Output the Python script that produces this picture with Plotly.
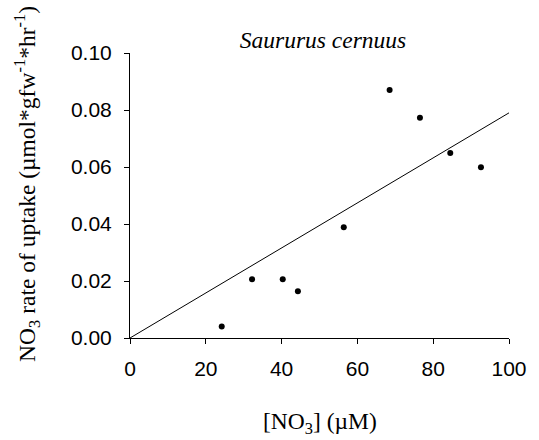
import plotly.graph_objects as go

# Data
no3_conc = [24.2, 32.2, 40.3, 44.3, 56.4, 68.5, 76.5, 84.5, 92.6]
uptake_rate = [0.0040, 0.0206, 0.0206, 0.0164, 0.0389, 0.0870, 0.0773, 0.0649, 0.0599]
fit_x = [0, 100]
fit_y = [0.0, 0.079]
x_ticks = [0, 20, 40, 60, 80, 100]
y_ticks = [0.00, 0.02, 0.04, 0.06, 0.08, 0.10]
y_tick_labels = ["0.00", "0.02", "0.04", "0.06", "0.08", "0.10"]

W, H = 539, 440
L, R, T, B = 130, 23, 53, 102

fig = go.Figure()
fig.add_trace(go.Scatter(x=fit_x, y=fit_y, mode="lines",
                         line=dict(color="black", width=1), showlegend=False,
                         hoverinfo="skip"))
fig.add_trace(go.Scatter(x=no3_conc, y=uptake_rate, mode="markers",
                         marker=dict(color="black", size=6), showlegend=False))

tick_font = dict(family="Liberation Sans, Arial, sans-serif", size=21, color="black")
serif = "Liberation Serif, Times New Roman, serif"

fig.update_layout(
    width=W, height=H,
    margin=dict(l=L, r=R, t=T, b=B),
    paper_bgcolor="white", plot_bgcolor="white",
    title=dict(text="<i>Saururus cernuus</i>", x=323 / W, y=1 - 40 / H,
               xref="container", yref="container",
               xanchor="center", yanchor="middle",
               font=dict(family=serif, size=23.5, color="black")),
    xaxis=dict(range=[0, 100], tickvals=x_ticks, showgrid=False, zeroline=False,
               showline=True, linecolor="black", linewidth=1,
               ticks="outside", ticklen=5, tickcolor="black", tickwidth=1,
               tickfont=tick_font, ticklabelstandoff=7),
    yaxis=dict(range=[0, 0.1], tickvals=y_ticks, ticktext=y_tick_labels,
               showgrid=False, zeroline=False,
               showline=True, linecolor="black", linewidth=1,
               ticks="outside", ticklen=5, tickcolor="black", tickwidth=1,
               tickfont=tick_font, ticklabelstandoff=8),
    annotations=[
        dict(text="[NO<sub>3</sub>] (µM)", xref="paper", yref="paper",
             x=(324 - L) / (W - L - R), y=-(423 - (H - B)) / (H - T - B),
             xanchor="center", yanchor="middle", showarrow=False,
             font=dict(family=serif, size=23.5, color="black")),
        dict(text="NO<sub>3</sub> rate of uptake (µmol*gfw<sup>-1</sup>*hr<sup>-1</sup>)",
             xref="paper", yref="paper", textangle=-90,
             x=-(L - 25) / (W - L - R), y=((H - B) - 184) / (H - T - B),
             xanchor="center", yanchor="middle", showarrow=False,
             font=dict(family=serif, size=23.5, color="black")),
    ],
)

fig.write_html("out.html")
